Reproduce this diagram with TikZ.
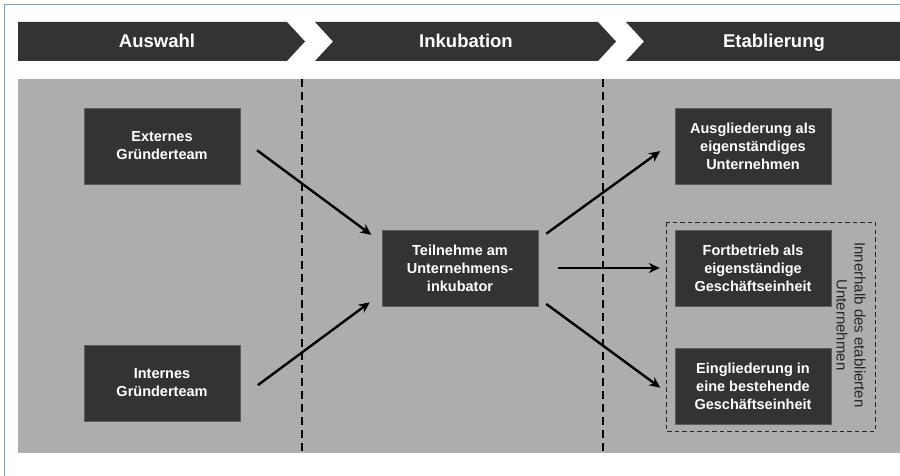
\documentclass[tikz,border=0pt]{standalone}
\usepackage{fontspec}
\setmainfont{Liberation Sans}
\usetikzlibrary{positioning,arrows.meta}

\definecolor{boxdark}{HTML}{333333}
\definecolor{areagray}{HTML}{ADADAD}
\definecolor{frameblue}{HTML}{7D9DB9}

\tikzset{
  phase/.style={text=white, anchor=base, font=\fontsize{18.5}{22}\selectfont\bfseries},
  stepbox/.style={fill=boxdark, draw=boxdark!80!white, text=white, align=center,
    minimum width=156pt, minimum height=76pt, inner sep=2pt,
    font=\fontsize{14.5}{18}\selectfont\bfseries},
  flow/.style={-{Stealth[length=11pt,width=10pt]}, line width=2.4pt, black},
}

\begin{document}
\begin{tikzpicture}[x=1pt, y=-1pt]
\useasboundingbox (0,0) rectangle (900,476);
\fill[white] (0,0) rectangle (900,476);
\draw[frameblue, line width=1pt] (4,476) -- (4,5) -- (900,5);

% Phasen
\fill[boxdark] (18,22) -- (287,22) -- (305,41.5) -- (287,61) -- (18,61) -- cycle;
\fill[boxdark] (315,22) -- (598,22) -- (616,41.5) -- (598,61) -- (315,61) -- (333,41.5) -- cycle;
\fill[boxdark] (626,22) -- (900,22) -- (900,61) -- (626,61) -- (644,41.5) -- cycle;
\node[phase] (phase_1) at (157,48) {Auswahl};
\node[phase] (phase_2) at (466,48) {Inkubation};
\node[phase] (phase_3) at (774,48) {Etablierung};

% Hintergrund
\fill[areagray] (18,79) rectangle (900,453);
\draw[line width=1.6pt, dash pattern=on 8pt off 5pt] (302,79) -- (302,453);
\draw[line width=1.6pt, dash pattern=on 8pt off 5pt] (603,79) -- (603,453);

% Kaesten
\node[stepbox] (box_ext) at (162,146) {Externes\\Gründerteam};
\node[stepbox] (box_int) at (162,383) {Internes\\Gründerteam};
\node[stepbox] (box_inc) at (460,268) {Teilnehme am\\Unternehmens-\\inkubator};
\node[stepbox] (box_aus) at (753,146) {Ausgliederung als\\eigenständiges\\Unternehmen};
\node[stepbox] (box_fort) at (753,268) {Fortbetrieb als\\eigenständige\\Geschäftseinheit};
\node[stepbox] (box_ein) at (753,386) {Eingliederung in\\eine bestehende\\Geschäftseinheit};

\draw[line width=1pt, dash pattern=on 4.5pt off 3pt, black!85] (666,222) rectangle (875,431);
\node[rotate=-90, align=center, text=black!85, font=\fontsize{15}{18}\selectfont] (lbl_inner) at (851,325)
  {Innerhalb des etablierten\\Unternehmen};

% Pfeile
\draw[flow, shorten <=21pt, shorten >=13pt] (box_ext.6) -- (box_inc.162);
\draw[flow, shorten <=22pt, shorten >=15pt] (box_int.-11) -- (box_inc.198);
\draw[flow, shorten <=10pt, shorten >=18pt] (box_inc.20) -- (box_aus.176);
\draw[flow, shorten <=20pt, shorten >=15pt] (box_inc.east) -- (box_fort.west);
\draw[flow, shorten <=10pt, shorten >=18pt] (box_inc.-21) -- (box_ein.189);
\end{tikzpicture}
\end{document}
